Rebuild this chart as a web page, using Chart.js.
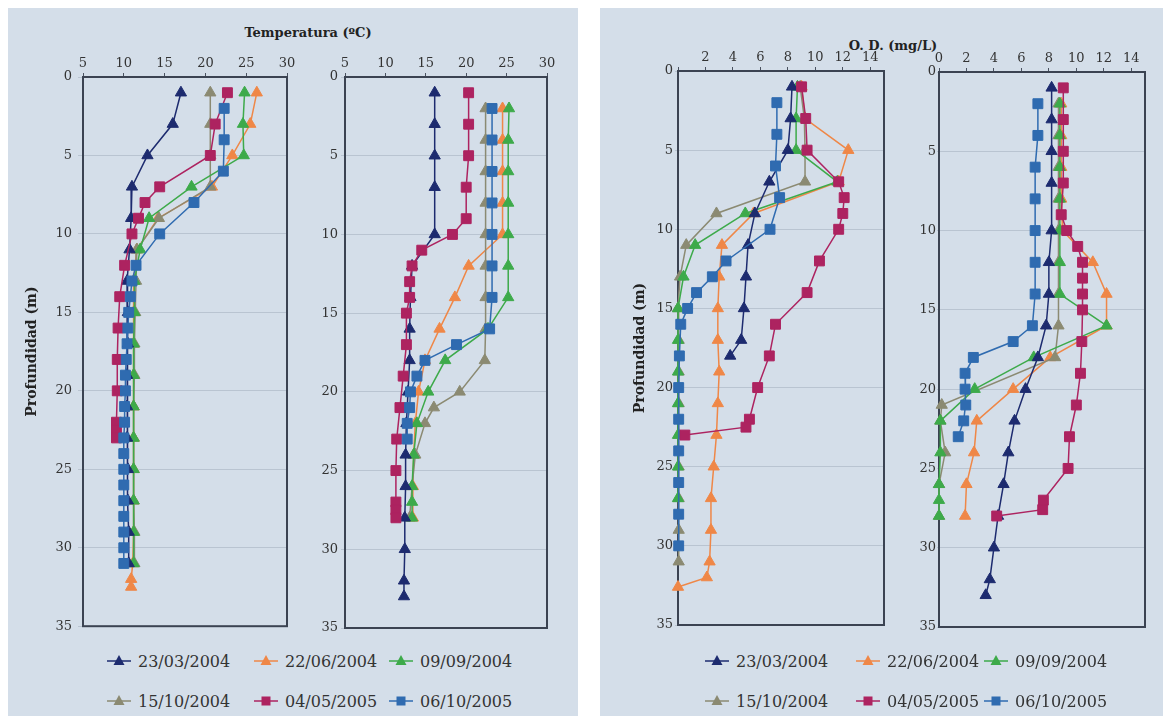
<!DOCTYPE html>
<html lang="es">
<head>
<meta charset="UTF-8">
<title>Temperatura y O. D.</title>
<script src="https://cdn.jsdelivr.net/npm/chart.js"></script>
<style>
  body { margin: 0; background: #fff; width: 1163px; height: 722px; position: relative; overflow: hidden; font-family: "DejaVu Serif", serif; }
  .panel { position: absolute; top: 8px; height: 708px; background: #d4dee9; }
  canvas { position: absolute; }
  .axis-title { position: absolute; font-weight: bold; font-size: 13px; color: #222; transform: translateX(-50%); white-space: nowrap; }
  .legend { position: absolute; height: 22px; font-size: 16px; color: #333; white-space: nowrap; display: flex; align-items: center; }
  .legend svg { margin-right: 4px; }
</style>
</head>
<body>
<div class="panel" style="left:8px;width:570px"></div>
<div class="panel" style="left:600px;width:563px"></div>
<div class="axis-title" style="left:308px;top:25px">Temperatura (ºC)</div>
<div class="axis-title" style="left:893px;top:38px">O. D. (mg/L)</div>
<canvas id="tempL"></canvas>
<canvas id="tempR"></canvas>
<canvas id="odL"></canvas>
<canvas id="odR"></canvas>
<div id="legends"></div>
<script>
// series (sampling dates)
const seriesNames = ['23/03/2004', '22/06/2004', '09/09/2004', '15/10/2004', '04/05/2005', '06/10/2005'];
const seriesColors = ['#1d2b6f', '#ef8747', '#3daa4a', '#8b8a72', '#ad2360', '#2f6bb0'];
const seriesMarkers = ['triangle', 'triangle', 'triangle', 'triangle', 'rect', 'rect'];
const drawOrder = [2, 5, 3, 4, 1, 0];

// [value, depth (m)] - temperature, left profile
const tempL_23mar04 = [[17.0,1],[16.0,3],[12.9,5],[11.0,7],[10.9,9],[10.7,11],[10.4,13],[10.5,15],[10.5,17],[10.4,19],[10.4,21],[10.4,23],[10.5,25],[10.5,27],[10.6,29],[10.6,31]];
const tempL_22jun04 = [[26.3,1],[25.5,3],[23.3,5],[20.8,7],[14.2,9],[11.6,11],[11.2,13],[11.2,15],[11.2,17],[11.2,19],[11.2,21],[11.2,23],[11.2,25],[11.2,27],[11.2,29],[11.1,31],[10.9,32],[10.9,32.5]];
const tempL_09sep04 = [[24.8,1],[24.6,3],[24.7,5],[18.3,7],[13.1,9],[12.0,11],[11.3,13],[11.3,15],[11.2,17],[11.2,19],[11.2,21],[11.2,23],[11.2,25],[11.2,27],[11.2,29],[11.2,31]];
const tempL_15oct04 = [[20.6,1],[20.6,3],[20.6,5],[20.6,7],[14.3,9],[11.6,11],[11.5,13],[11.4,15],[11.3,17],[11.3,19],[11.2,21],[11.2,23],[11.2,25],[11.2,27],[11.3,29],[11.3,31]];
const tempL_04may05 = [[22.7,1],[21.2,3],[20.6,5],[14.4,7],[12.6,8],[11.8,9],[11.0,10],[10.1,12],[9.5,14],[9.3,16],[9.2,18],[9.2,20],[9.1,22],[9.1,22.5],[9.1,23]];
const tempL_06oct05 = [[22.3,2],[22.3,4],[22.2,6],[18.6,8],[14.4,10],[11.5,12],[11.0,13],[10.8,14],[10.6,15],[10.5,16],[10.4,17],[10.3,18],[10.2,19],[10.2,20],[10.1,21],[10.1,22],[10.0,23],[10.0,24],[10.0,25],[10.0,26],[10.0,27],[10.0,28],[10.0,29],[10.0,30],[10.0,31]];

// temperature, right profile
const tempR_23mar04 = [[16.1,1],[16.1,3],[16.1,5],[16.1,7],[16.1,10],[13.3,12],[13.1,14],[13.0,16],[13.0,18],[12.8,20],[12.6,22],[12.5,24],[12.5,26],[12.4,28],[12.4,30],[12.3,32],[12.3,33]];
const tempR_22jun04 = [[24.5,2],[24.5,4],[24.5,6],[24.5,8],[24.5,10],[20.3,12],[18.6,14],[16.7,16],[14.9,18],[14.1,20],[13.7,22],[13.5,24],[13.4,26],[13.4,28]];
const tempR_09sep04 = [[25.3,2],[25.2,4],[25.2,6],[25.2,8],[25.2,10],[25.2,12],[25.2,14],[22.7,16],[17.4,18],[15.3,20],[13.9,22],[13.5,24],[13.3,26],[13.3,27],[13.3,28]];
const tempR_15oct04 = [[22.4,2],[22.4,4],[22.4,6],[22.4,8],[22.4,10],[22.4,12],[22.4,14],[22.4,16],[22.3,18],[19.2,20],[16.0,21],[14.9,22],[13.7,24],[13.3,26],[13.0,28]];
const tempR_04may05 = [[20.3,1],[20.3,3],[20.3,5],[20.0,7],[20.0,9],[18.3,10],[14.5,11],[13.3,12],[13.0,13],[13.0,14],[12.6,15],[12.6,17],[12.2,19],[11.8,21],[11.4,23],[11.3,25],[11.3,27],[11.3,27.5],[11.3,28]];
const tempR_06oct05 = [[23.2,2],[23.2,4],[23.2,6],[23.2,8],[23.2,10],[23.2,12],[23.2,14],[22.9,16],[18.8,17],[14.9,18],[13.9,19],[13.1,20],[13.0,21],[12.7,22],[12.7,23]];

// dissolved oxygen, left profile
const odL_23mar04 = [[8.3,1],[8.2,3],[8.0,5],[6.65,7],[5.6,9],[5.1,11],[4.95,13],[4.8,15],[4.6,17],[3.8,18]];
const odL_22jun04 = [[9.0,1],[9.25,3],[12.4,5],[11.7,7],[5.5,9],[3.2,11],[3.0,13],[2.9,15],[2.9,17],[3.0,19],[2.9,21],[2.8,23],[2.6,25],[2.4,27],[2.4,29],[2.3,31],[2.1,32],[0.0,32.6]];
const odL_09sep04 = [[8.7,1],[8.6,3],[8.6,5],[11.6,7],[4.9,9],[1.25,11],[0.4,13],[0.0,15],[0.0,17],[0.0,19],[0.0,21],[0.0,23],[0.0,25],[0.0,27]];
const odL_15oct04 = [[8.9,1],[9.2,3],[9.25,5],[9.25,7],[2.8,9],[0.6,11],[0.15,13],[0.0,15],[0.05,17],[0.05,19],[0.05,21],[0.05,23],[0.05,25],[0.05,27],[0.05,29],[0.05,31]];
const odL_04may05 = [[9.0,1],[9.3,3],[9.4,5],[11.7,7],[12.1,8],[12.0,9],[11.7,10],[10.3,12],[9.4,14],[7.1,16],[6.65,18],[5.8,20],[5.2,22],[4.95,22.5],[0.5,23]];
const odL_06oct05 = [[7.2,2],[7.2,4],[7.1,6],[7.4,8],[6.7,10],[3.5,12],[2.5,13],[1.35,14],[0.7,15],[0.2,16],[0.1,18],[0.05,20],[0.05,22],[0.05,24],[0.05,26],[0.05,28],[0.05,30]];

// dissolved oxygen, right profile
const odR_23mar04 = [[8.2,1],[8.2,3],[8.2,5],[8.2,7],[8.2,10],[8.0,12],[8.0,14],[7.8,16],[7.2,18],[6.3,20],[5.5,22],[5.05,24],[4.7,26],[4.3,28],[4.0,30],[3.7,32],[3.4,33]];
const odR_22jun04 = [[8.9,2],[8.9,4],[8.9,6],[8.9,8],[9.0,10],[11.2,12],[12.2,14],[12.2,16],[8.1,18],[5.4,20],[2.75,22],[2.55,24],[2.0,26],[1.9,28]];
const odR_09sep04 = [[8.8,2],[8.8,4],[8.8,6],[8.8,8],[8.8,10],[8.8,12],[8.8,14],[12.2,16],[6.9,18],[2.6,20],[0.1,22],[0.1,24],[0.0,26],[0.0,27],[0.0,28]];
const odR_15oct04 = [[8.7,2],[8.7,4],[8.7,6],[8.7,8],[8.7,10],[8.7,12],[8.7,14],[8.7,16],[8.45,18],[0.2,21],[0.1,22],[0.45,24],[0.0,26],[0.0,28]];
const odR_04may05 = [[9.05,1],[9.05,3],[9.05,5],[9.05,7],[8.9,9],[9.3,10],[10.1,11],[10.45,12],[10.45,13],[10.45,14],[10.45,15],[10.4,17],[10.3,19],[10.0,21],[9.5,23],[9.4,25],[7.6,27],[7.55,27.6],[4.2,28]];
const odR_06oct05 = [[7.2,2],[7.2,4],[7.0,6],[7.0,8],[7.0,10],[7.0,12],[7.0,14],[6.8,16],[5.4,17],[2.5,18],[1.9,19],[1.9,20],[1.95,21],[1.8,22],[1.4,23]];

const depthTicks = [0, 35, 5];   // min, max, step
const tempTicks = [5, 30, 5];
const odTicks = [0, 15, 2];

const FONT = '"DejaVu Serif", serif';
const PAD = 12;

// box around each plot area
const frame = {
    id: 'frame',
    beforeDatasetsDraw(chart) {
        const { ctx, chartArea: a } = chart;
        ctx.save();
        ctx.strokeStyle = '#3b4352';
        ctx.lineWidth = 2;
        ctx.strokeRect(a.left, a.top, a.right - a.left, a.bottom - a.top);
        ctx.restore();
    }
};

function makeSub(id, area, series, xt, opts) {
    const cv = document.getElementById(id);
    const left = area.l - area.yw, top = area.t - area.xh;
    cv.width = area.r - left + PAD;
    cv.height = area.b - top + PAD;
    cv.style.left = left + 'px';
    cv.style.top = top + 'px';

    return new Chart(cv, {
        type: 'scatter',
        data: {
            datasets: series.map((pts, i) => ({
                label: seriesNames[i],
                data: pts,
                showLine: true,
                order: drawOrder[i],
                clip: false,
                borderColor: seriesColors[i],
                backgroundColor: seriesColors[i],
                borderWidth: 1.5,
                pointStyle: seriesMarkers[i],
                pointRadius: seriesMarkers[i] === 'rect' ? 7 : 6.5,
                pointBorderWidth: 1,
                pointBorderColor: seriesColors[i],
                pointBackgroundColor: seriesColors[i]
            }))
        },
        options: {
            responsive: false,
            animation: false,
            devicePixelRatio: 1,
            layout: { padding: { left: 0, top: 0, right: PAD, bottom: PAD } },
            plugins: { legend: { display: false }, tooltip: { enabled: false } },
            scales: {
                x: {
                    type: 'linear',
                    position: 'top',
                    min: xt[0], max: xt[1],
                    ticks: {
                        stepSize: xt[2], includeBounds: false, padding: 2,
                        color: '#333', font: { family: FONT, size: 13 },
                        callback: v => (opts.hideZero && v === 0) ? '' : v
                    },
                    grid: { drawOnChartArea: false, tickLength: 4, color: '#4a5260' },
                    border: { display: false },
                    afterFit(s) { s.height = area.xh; }
                },
                y: {
                    type: 'linear',
                    reverse: true,
                    min: depthTicks[0], max: depthTicks[1],
                    ticks: { stepSize: depthTicks[2], padding: opts.tp, color: '#333', font: { family: FONT, size: 13 } },
                    grid: { color: 'rgba(135,148,165,0.35)', tickLength: opts.tl },
                    border: { display: false },
                    title: {
                        display: !!opts.title,
                        text: 'Profundidad (m)',
                        color: '#222',
                        font: { family: FONT, size: 14, weight: 'bold' },
                        padding: { top: opts.titlePad || 0, bottom: 0 }
                    },
                    afterFit(s) { s.width = area.yw; }
                }
            }
        },
        plugins: [frame]
    });
}

makeSub('tempL', { l: 83, t: 77, r: 287, b: 628, yw: 74, xh: 37 },
    [tempL_23mar04, tempL_22jun04, tempL_09sep04, tempL_15oct04, tempL_04may05, tempL_06oct05],
    tempTicks, { tl: 5, tp: 6, title: true, titlePad: 15 });
makeSub('tempR', { l: 345, t: 77, r: 547, b: 628, yw: 45, xh: 37 },
    [tempR_23mar04, tempR_22jun04, tempR_09sep04, tempR_15oct04, tempR_04may05, tempR_06oct05],
    tempTicks, { tl: 4, tp: 3 });
makeSub('odL', { l: 678, t: 71, r: 884, b: 625, yw: 77, xh: 37 },
    [odL_23mar04, odL_22jun04, odL_09sep04, odL_15oct04, odL_04may05, odL_06oct05],
    odTicks, { tl: 3, tp: 2, title: true, titlePad: 31, hideZero: true });
makeSub('odR', { l: 939, t: 72, r: 1145, b: 627, yw: 45, xh: 37 },
    [odR_23mar04, odR_22jun04, odR_09sep04, odR_15oct04, odR_04may05, odR_06oct05],
    odTicks, { tl: 2, tp: 1 });

// legends under each panel
function markerSvg(i) {
    const c = seriesColors[i];
    const mark = seriesMarkers[i] === 'rect'
        ? `<rect x="10.5" y="6.5" width="9" height="9" fill="${c}"/>`
        : `<polygon points="15,5 20.5,15 9.5,15" fill="${c}"/>`;
    return `<svg width="30" height="22"><line x1="3" y1="11" x2="27" y2="11" stroke="${c}" stroke-width="1.5"/>${mark}</svg>`;
}

function buildLegend(xs, ys) {
    const holder = document.getElementById('legends');
    seriesNames.forEach((name, i) => {
        const item = document.createElement('div');
        item.className = 'legend';
        item.style.left = xs[i % 3] + 'px';
        item.style.top = (ys[Math.floor(i / 3)] - 11) + 'px';
        item.innerHTML = markerSvg(i) + name;
        holder.appendChild(item);
    });
}

buildLegend([104, 251, 386], [661, 701]);
buildLegend([702, 853, 981], [661, 701]);
</script>
</body>
</html>
